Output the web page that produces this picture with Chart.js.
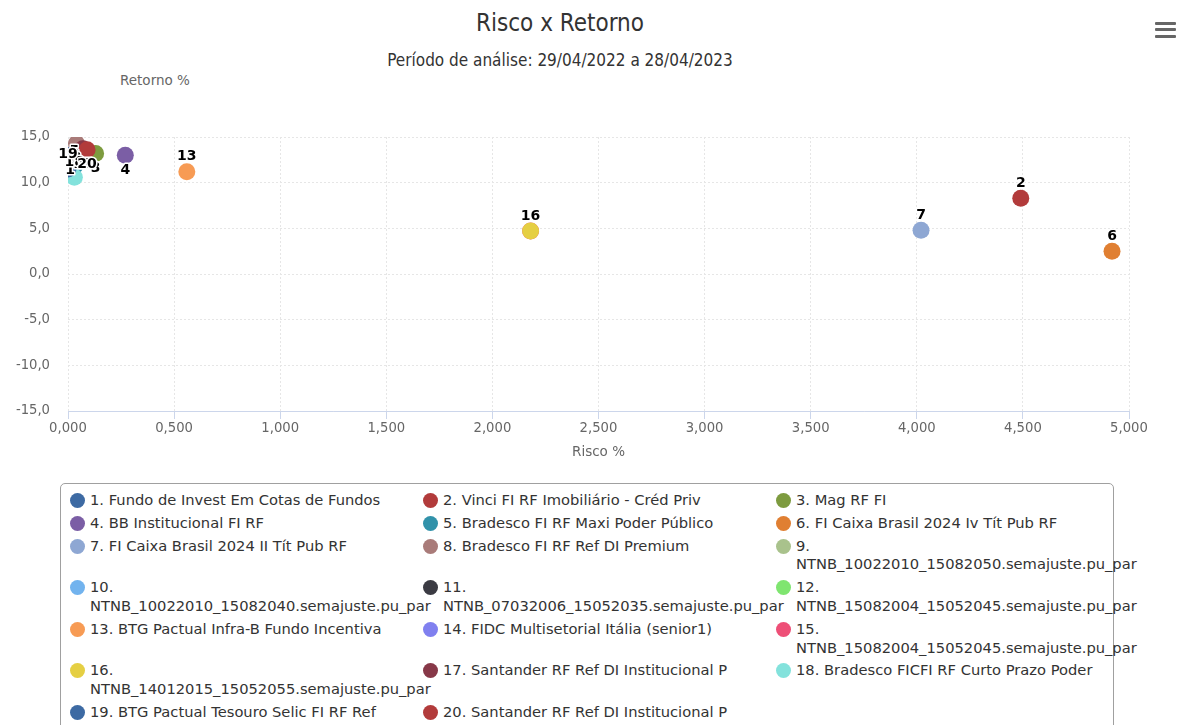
<!DOCTYPE html>
<html lang="pt-BR">
<head>
<meta charset="utf-8">
<title>Risco x Retorno</title>
<script src="https://cdn.jsdelivr.net/npm/chart.js@4.4.1/dist/chart.umd.min.js"></script>
<style>
  html, body { margin: 0; padding: 0; background: #fff; overflow: hidden; }
  body { width: 1178px; height: 725px; position: relative; font-family: "DejaVu Sans", sans-serif; }
  #chart { position: absolute; left: 0; top: 0; }
  #title { position: absolute; left: 0; width: 1120px; top: 9px; text-align: center;
    font-family: "DejaVu Sans Condensed", "DejaVu Sans", sans-serif; font-size: 24px; line-height: 28px; color: #333; }
  #subtitle { position: absolute; left: 0; width: 1120px; top: 50px; text-align: center;
    font-family: "DejaVu Sans Condensed", "DejaVu Sans", sans-serif; font-size: 17px; line-height: 20px; color: #333; }
  #yTitle { position: absolute; left: 120px; top: 72px; font-size: 13.5px; line-height: 16px; color: #666; }
  #menu { position: absolute; left: 1155px; top: 22px; width: 21px; }
  #menu div { height: 3px; background: #666; border-radius: 1px; margin-bottom: 3.3px; }
  #legend { position: absolute; left: 60px; top: 483px; width: 1043px; border: 1px solid #a0a0a0; border-radius: 5px;
    padding: 7px 0 12px 9px; display: grid; grid-template-columns: 353px 353px 337px; }
  .item { display: flex; align-items: flex-start; padding-bottom: 4px; font-size: 14.7px; line-height: 18.8px; color: #333; }
  .marker { flex: none; width: 15px; height: 15px; border-radius: 50%; margin: 2px 5px 0 0; }
  .text { width: 318px; }
</style>
</head>
<body>
<div id="title">Risco x Retorno</div>
<div id="subtitle">Período de análise: 29/04/2022 a 28/04/2023</div>
<div id="yTitle">Retorno %</div>
<div id="menu"><div></div><div></div><div></div></div>
<canvas id="chart" width="1178" height="470"></canvas>
<div id="legend"></div>
<script>
const fundNames = [
  "Fundo de Invest Em Cotas de Fundos",
  "Vinci FI RF Imobiliário - Créd Priv",
  "Mag RF FI",
  "BB Institucional FI RF",
  "Bradesco FI RF Maxi Poder Público",
  "FI Caixa Brasil 2024 Iv Tít Pub RF",
  "FI Caixa Brasil 2024 II Tít Pub RF",
  "Bradesco FI RF Ref DI Premium",
  "NTNB_10022010_15082050.semajuste.pu_par",
  "NTNB_10022010_15082040.semajuste.pu_par",
  "NTNB_07032006_15052035.semajuste.pu_par",
  "NTNB_15082004_15052045.semajuste.pu_par",
  "BTG Pactual Infra-B Fundo Incentiva",
  "FIDC Multisetorial Itália (senior1)",
  "NTNB_15082004_15052045.semajuste.pu_par",
  "NTNB_14012015_15052055.semajuste.pu_par",
  "Santander RF Ref DI Institucional P",
  "Bradesco FICFI RF Curto Prazo Poder",
  "BTG Pactual Tesouro Selic FI RF Ref",
  "Santander RF Ref DI Institucional P",
];

// Risco % (eixo x) e Retorno % (eixo y); null = sem ponto no gráfico
const riskValues = [0.01, 4.49, 0.13, 0.27, 0.03, 4.92, 4.02, 0.04, null, null, null, null, 0.56, null, 2.18, 2.18, 0.07, 0.03, 0.0, 0.09];
const returnValues = [13.0, 8.3, 13.2, 13.0, 11.8, 2.5, 4.8, 14.3, null, null, null, null, 11.2, null, 4.7, 4.7, 13.7, 10.6, 11.5, 13.6];

const fundColors = [
  "#3d6aa3", "#b23b3b", "#7d9b3f", "#7b5ea5", "#3192aa", "#e07f32", "#8ea7d3", "#a97b79",
  "#a9c28c", "#72b3ee", "#3b3b43", "#7fe570", "#f79b54", "#8080ef", "#ee4f77", "#e5cf43",
  "#873848", "#83e2dc", "#3d6aa3", "#b23b3b",
];

const xTicks = { min: 0, max: 5, step: 0.5 };
const yTicks = { min: -15, max: 15, step: 5 };

const formatNumber = (value, digits) => value.toFixed(digits).replace(".", ",");

const pointLabels = {
  id: "pointLabels",
  afterDatasetsDraw(chart) {
    const { ctx, chartArea } = chart;
    ctx.save();
    ctx.font = "bold 14px 'DejaVu Sans'";
    ctx.textAlign = "center";
    ctx.textBaseline = "middle";
    ctx.lineJoin = "round";
    chart.data.datasets.forEach((ds, i) => {
      chart.getDatasetMeta(i).data.forEach((pt) => {
        if (pt.skip || isNaN(pt.y)) return;
        let y = pt.y - 15;
        if (y - 7 < chartArea.top) y = pt.y + 15;
        ctx.strokeStyle = "#fff";
        ctx.lineWidth = 3;
        ctx.strokeText(ds.pointLabel, pt.x, y);
        ctx.fillStyle = "#000";
        ctx.fillText(ds.pointLabel, pt.x, y);
      });
    });
    ctx.restore();
  },
};

const buildLegend = () => {
  const container = document.getElementById("legend");
  container.innerHTML = fundNames
    .map(
      (name, i) => `
      <div class="item">
        <span class="marker" style="background:${fundColors[i]}"></span>
        <span class="text">${i + 1}. ${name}</span>
      </div>`
    )
    .join("");
};

const createChart = () => {
  const datasets = fundNames.map((name, i) => ({
    label: `${i + 1}. ${name}`,
    pointLabel: String(i + 1),
    data: riskValues[i] === null ? [] : [{ x: riskValues[i], y: returnValues[i] }],
    backgroundColor: fundColors[i],
    borderColor: fundColors[i],
    order: fundNames.length - i,
  }));

  new Chart(document.getElementById("chart"), {
    type: "scatter",
    data: { datasets },
    options: {
      responsive: false,
      animation: false,
      layout: { padding: { top: 137, right: 49, left: 0, bottom: 0 } },
      plugins: { legend: { display: false }, tooltip: { enabled: false } },
      elements: { point: { radius: 8.5, borderWidth: 0, hoverRadius: 8.5 } },
      scales: {
        x: {
          type: "linear",
          min: xTicks.min,
          max: xTicks.max,
          afterFit: (scale) => { scale.height = 59; },
          ticks: {
            stepSize: xTicks.step,
            padding: 2,
            color: "#666",
            font: { family: "DejaVu Sans", size: 13.2 },
            maxRotation: 0,
            callback: (value) => formatNumber(value, 3),
          },
          grid: { color: "#e6e6e6", tickColor: "#ccd6eb", tickLength: 8, tickBorderDash: [] },
          border: { color: "#ccd6eb", width: 1, dash: [2, 2] },
          title: {
            display: true,
            text: "Risco %",
            color: "#666",
            font: { family: "DejaVu Sans", size: 13.5 },
            padding: { top: 0, bottom: 9 },
          },
        },
        y: {
          min: yTicks.min,
          max: yTicks.max,
          afterFit: (scale) => { scale.width = 68; },
          ticks: {
            stepSize: yTicks.step,
            padding: 18,
            color: "#666",
            font: { family: "DejaVu Sans", size: 13.2 },
            callback: (value) => formatNumber(value, 1),
          },
          grid: { color: "#e6e6e6", drawTicks: false },
          border: { display: false, dash: [2, 2] },
        },
      },
    },
    plugins: [pointLabels],
  });
};

document.addEventListener("DOMContentLoaded", () => {
  buildLegend();
  createChart();
});
</script>
</body>
</html>
